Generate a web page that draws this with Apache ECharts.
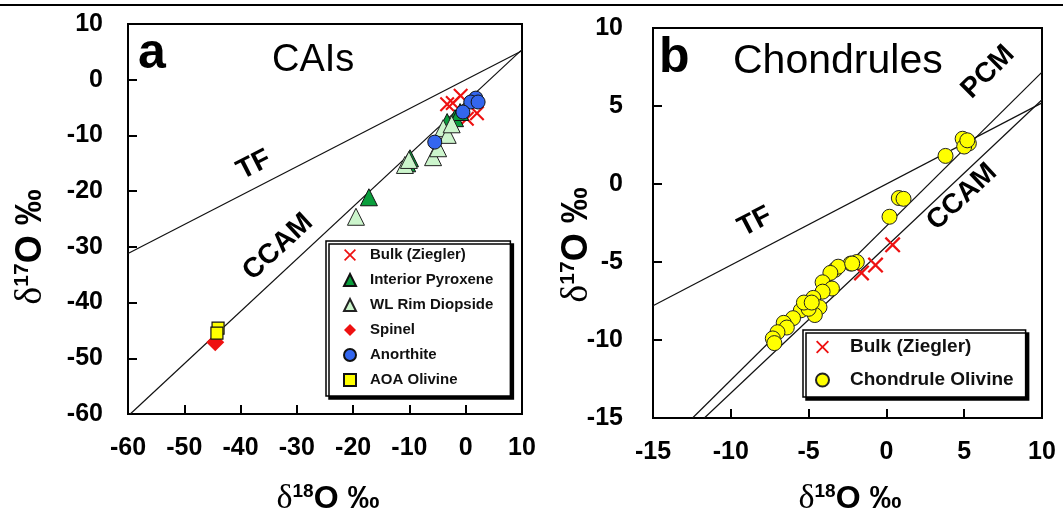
<!DOCTYPE html>
<html><head><meta charset="utf-8">
<script src="https://cdn.jsdelivr.net/npm/echarts@6/dist/echarts.min.js"></script>
<style>html,body{margin:0;padding:0;background:#fff}#c{width:1063px;height:517px}</style>
</head><body><div id="c"></div>
<script>
// ---- Panel a (CAIs) data ----
const bulkA = [[-3.3,-4.4],[-2.3,-4.2],[-0.9,-2.9],[0.2,-7.0],[2.0,-6.0]];
const interiorPyroxene = [[-17.2,-21.1],[-9.9,-14.1],[-10.4,-15.0],[-3.3,-7.6],[-1.9,-6.9],[-1.0,-5.8]];
const wlRimDiopside = [[-19.5,-24.6],[-10.8,-15.3],[-10.1,-14.4],[-5.8,-13.9],[-4.9,-12.3],[-4.0,-8.7],[-3.2,-9.9],[-2.5,-8.0]];
const spinel = [[-44.5,-47.1]];
const anorthite = [[1.8,-3.3],[0.9,-4.0],[2.2,-4.0],[-0.5,-5.8],[-5.5,-11.2]];
const aoaOlivine = [[-44.0,-44.6],[-44.2,-45.5]];
const tfA = [[-60,-31.2],[10,5.2]];
const ccamA = [[-59.6,-60],[10,5.4]];
// ---- Panel b (Chondrules) data ----
const bulkB = [[0.4,-3.9],[-0.7,-5.2],[-1.6,-5.7]];
const chondruleOlivine = [[4.9,2.9],[5.3,2.6],[5.0,2.4],[5.2,2.8],[3.8,1.8],[0.8,-0.9],[1.1,-0.95],[0.2,-2.1],
  [-1.9,-5.0],[-2.3,-5.1],[-3.3,-5.5],[-3.1,-5.3],[-2.2,-5.1],
  [-3.6,-5.7],[-4.1,-6.3],[-3.5,-6.7],[-4.1,-6.9],[-4.7,-7.3],[-5.2,-7.8],[-5.5,-8.1],[-4.3,-7.9],[-4.6,-8.4],[-5.0,-8.0],
  [-6.0,-8.6],[-6.6,-8.9],[-6.4,-9.2],[-7.0,-9.5],[-7.3,-9.9],[-7.2,-10.2],[-5.3,-7.6],[-4.8,-7.6]];
const tfB = [[-15,-7.8],[10,5.2]];
const ccamB = [[-11.7,-15],[10,5.4]];
const pcmB = [[-12.46,-15],[10,7.17]];
// ---- axis ranges / ticks ----
const axisA = {min:-60, max:10, interval:10};
const axisB = {min:-15, max:10, interval:5};
const legendA = ['Bulk (Ziegler)','Interior Pyroxene','WL Rim Diopside','Spinel','Anorthite','AOA Olivine'];
const legendB = ['Bulk (Ziegler)','Chondrule Olivine'];

const F = 'Liberation Sans, Arial, sans-serif';
const XPATH = 'path://M1,0 L5,4 L9,0 L10,1 L6,5 L10,9 L9,10 L5,6 L1,10 L0,9 L4,5 L0,1 Z';
function axis(r, gi, pos, margin){
  return {type:'value', gridIndex:gi, position:pos, min:r.min, max:r.max, interval:r.interval,
    axisLine:{onZero:false, lineStyle:{color:'#000', width:2}},
    axisTick:{inside:true, length:9, lineStyle:{color:'#000', width:2}},
    axisLabel:{color:'#000', fontFamily:F, fontWeight:'bold', fontSize:25, margin},
    splitLine:{show:false}};
}
function line(data, xi){
  return {type:'line', data, xAxisIndex:xi, yAxisIndex:xi, symbol:'none', silent:true, z:1,
    lineStyle:{color:'#111', width:1.2}, animation:false};
}
function scat(name, data, xi, symbol, size, color, border, bw){
  return {type:'scatter', name, data, xAxisIndex:xi, yAxisIndex:xi, symbol, symbolSize:size, z:3,
    itemStyle:{color, borderColor:border, borderWidth:bw, opacity:1}};
}
function rich(k){
  return {
    d:{fontFamily:'Liberation Serif, Times New Roman, serif', fontSize:Math.round(34*k), color:'#000'},
    s:{fontFamily:F, fontWeight:'bold', fontSize:Math.round(19*k), verticalAlign:'top', color:'#000', padding:[0,0,Math.round(15*k),0]},
    o:{fontFamily:F, fontWeight:'bold', fontSize:Math.round(32*k), color:'#000'}
  };
}
function legend(data, left, top, fs, lh, gap, pad, tpad, iw){
  return {data, orient:'vertical', left, top, itemWidth:iw, itemHeight:iw, itemGap:gap, padding:pad,
    backgroundColor:'#fff', borderColor:'#000', borderWidth:1.5,
    shadowColor:'#000', shadowBlur:0, shadowOffsetX:3, shadowOffsetY:3,
    textStyle:{fontFamily:F, fontWeight:'bold', fontSize:fs, lineHeight:lh, color:'#111', padding:[0,0,0,tpad]},
    selectedMode:false};
}
function txt(x, y, text, size, weight, rot){
  return {type:'text', x, y, rotation:rot||0, z:10,
    style:{text, fontFamily:F, fontSize:size, fontWeight:weight, fill:'#000', align:'center', verticalAlign:'middle'}};
}
function title(x, y, text, size, weight){
  return {type:'text', x, y, z:10,
    style:{text, fontFamily:F, fontSize:size, fontWeight:weight, fill:'#000', align:'left', verticalAlign:'top'}};
}
const chart = echarts.init(document.getElementById('c'));
chart.setOption({
  animation:false,
  backgroundColor:'#fff',
  grid:[
    {left:128, top:24, width:394, height:390, show:true, borderColor:'#000', borderWidth:2, backgroundColor:'transparent'},
    {left:653, top:28, width:389, height:390, show:true, borderColor:'#000', borderWidth:2, backgroundColor:'transparent'}
  ],
  xAxis:[axis(axisA,0,'bottom',22), axis(axisB,1,'bottom',22)],
  yAxis:[axis(axisA,0,'left',25), axis(axisB,1,'left',30)],
  legend:[
    legend(legendA, 326, 241, 15, 16, 9, [6,17,8,17], 9, 12),
    legend(legendB, 803, 330, 19, 20, 13, [7,12,7,12], 16, 13)
  ],
  series:[
    line(tfA,0), line(ccamA,0),
    scat('Bulk (Ziegler)', bulkA, 0, XPATH, 15, '#ee1111', '#ee1111', 0),
    scat('Interior Pyroxene', interiorPyroxene, 0, 'triangle', 17, '#0a9e3c', '#111', 1),
    scat('WL Rim Diopside', wlRimDiopside, 0, 'triangle', 17, '#ccf5cc', '#222', 1),
    scat('Spinel', spinel, 0, 'diamond', 18, '#ee1111', '#ee1111', 0),
    scat('Anorthite', anorthite, 0, 'circle', 14, '#3366ee', '#111', 1),
    scat('AOA Olivine', aoaOlivine, 0, 'rect', 12, '#ffff00', '#111', 1.2),
    line(tfB,1), line(ccamB,1), line(pcmB,1),
    scat('Bulk (Ziegler)', bulkB, 1, XPATH, 16, '#ee1111', '#ee1111', 0),
    scat('Chondrule Olivine', chondruleOlivine, 1, 'circle', 15, '#ffff00', '#222', 1)
  ],
  graphic:[
    {type:'line', shape:{x1:0, y1:5, x2:1063, y2:5}, style:{stroke:'#000', lineWidth:2}},
    title(138, 29, 'a', 50, 'bold'),
    title(272, 42, 'CAIs', 38, 'normal'),
    title(659, 33, 'b', 50, 'bold'),
    title(733, 41, 'Chondrules', 41, 'normal'),
    txt(254, 165, 'TF', 28, 'bold', 27*Math.PI/180),
    txt(278, 247, 'CCAM', 28, 'bold', 43*Math.PI/180),
    txt(755, 222, 'TF', 28, 'bold', 27.5*Math.PI/180),
    txt(962, 197, 'CCAM', 28, 'bold', 43*Math.PI/180),
    txt(988, 72, 'PCM', 28, 'bold', 45*Math.PI/180),
    {type:'text', x:328, y:499, style:{text:'{d|δ}{s|18}{o|O ‰}', rich:rich(1), align:'center', verticalAlign:'middle'}},
    {type:'text', x:850, y:499, style:{text:'{d|δ}{s|18}{o|O ‰}', rich:rich(1), align:'center', verticalAlign:'middle'}},
    {type:'text', x:31, y:247, rotation:Math.PI/2, style:{text:'{d|δ}{s|17}{o|O ‰}', rich:rich(1.12), align:'center', verticalAlign:'middle'}},
    {type:'text', x:577, y:245, rotation:Math.PI/2, style:{text:'{d|δ}{s|17}{o|O ‰}', rich:rich(1.12), align:'center', verticalAlign:'middle'}}
  ]
});
</script></body></html>
